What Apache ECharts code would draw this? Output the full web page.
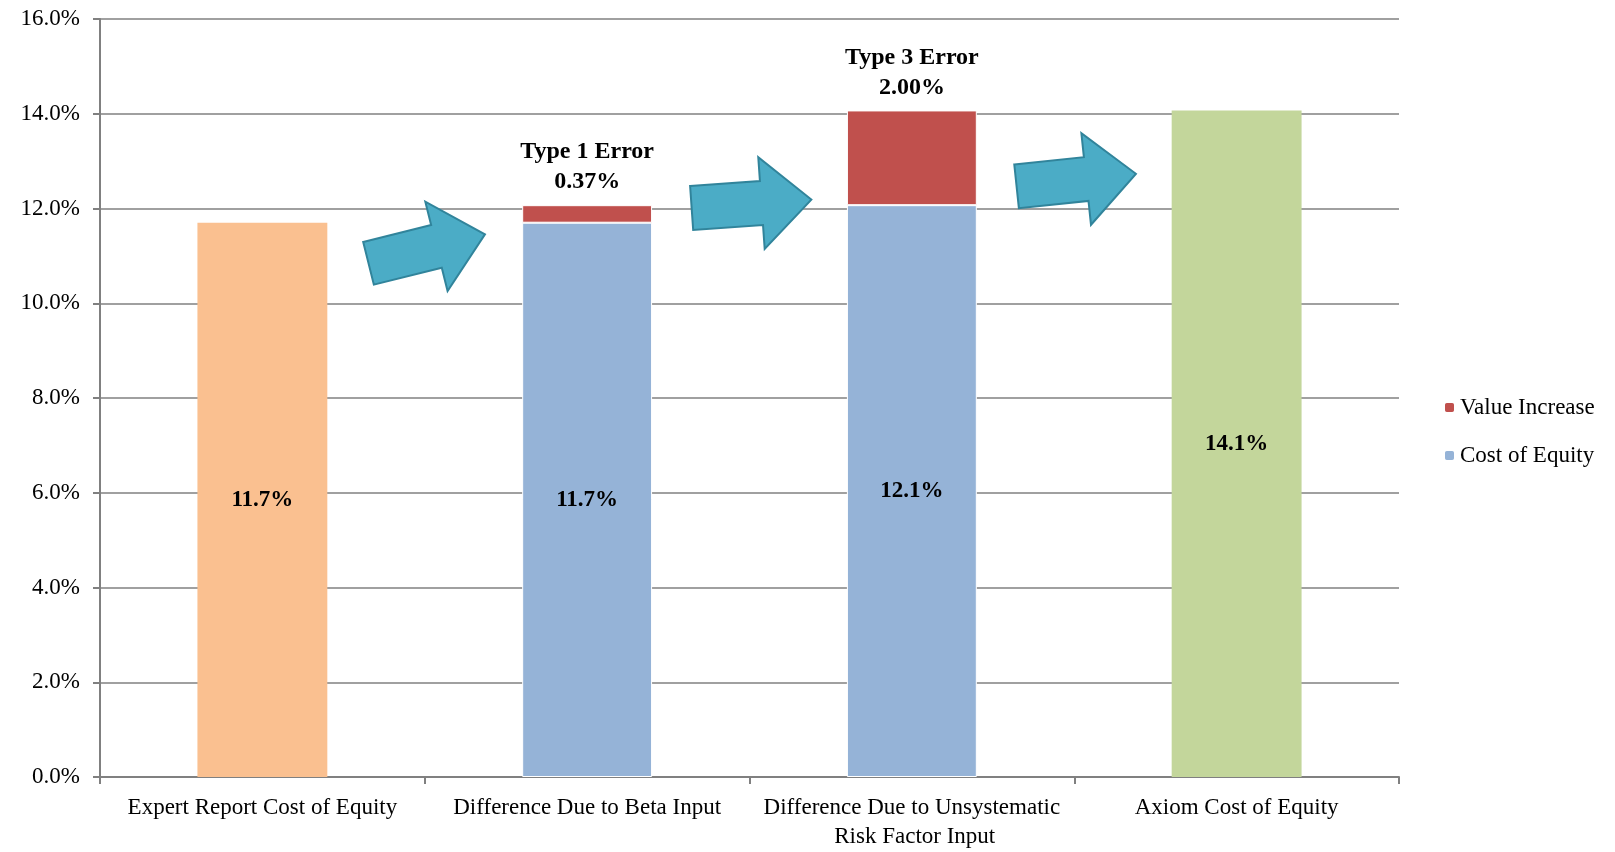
<!DOCTYPE html>
<html>
<head>
<meta charset="UTF-8">
<title>Cost of Equity</title>
<style>
  html, body { margin: 0; padding: 0; background: #fff; }
  #box { width: 1615px; height: 852px; }
</style>
</head>
<body>
<div id="box"></div>
<script type="text/javascript" src="https://cdn.jsdelivr.net/npm/echarts@6/dist/echarts.min.js"></script>
<script type="text/javascript">
// categories and values
var categories = ['Expert Report Cost of Equity', 'Difference Due to Beta Input',
  'Difference Due to Unsystematic Risk Factor Input', 'Axiom Cost of Equity'];
var expertValues = [11.7, '-', '-', '-'];
var costOfEquity = ['-', 11.7, 12.07, '-'];
var valueIncrease = ['-', 0.37, 2.00, '-'];
var axiomValues = ['-', '-', '-', 14.07];
var errorNames = ['', 'Type 1 Error', 'Type 3 Error', ''];
// arrows: [category the arrow starts after, y value of its centre, tilt in degrees]
var arrows = [[0, 11.15, 14], [1, 12.1, 4], [2, 12.6, 6]];
var yTicks = { min: 0, max: 16, interval: 2 };

var font = '"Liberation Serif", "DejaVu Serif", serif';
var myechart = echarts.init(document.getElementById('box'));

function pct1(p) { return (+p.value).toFixed(1) + '%'; }

var barLabel = {
  show: true, position: 'inside', formatter: pct1,
  color: '#000', fontFamily: font, fontWeight: 'bold', fontSize: 23
};

function renderArrow(params, api) {
  var i = api.value(0);
  var a = api.coord([i, api.value(1)]);
  var b = api.coord([i + 1, api.value(1)]);
  var cx = (a[0] + b[0]) / 2, cy = a[1];
  var len = 120, shaft = 44, head = 92, headLen = 50;
  var h = len / 2;
  var pts = [
    [-h, -shaft / 2], [h - headLen, -shaft / 2], [h - headLen, -head / 2],
    [h, 0], [h - headLen, head / 2], [h - headLen, shaft / 2], [-h, shaft / 2]
  ];
  return {
    type: 'polygon',
    x: cx + 2, y: cy,
    rotation: api.value(2) * Math.PI / 180,
    shape: { points: pts },
    style: { fill: '#4BACC6', stroke: '#31849B', lineWidth: 2 }
  };
}

var option = {
  animation: false,
  textStyle: { fontFamily: font },
  grid: { left: 100, right: 216, top: 19, bottom: 75 },
  legend: {
    data: ['Value Increase', 'Cost of Equity'],
    orient: 'vertical', left: 1438, top: 391,
    itemWidth: 11, itemHeight: 11, itemGap: 25,
    textStyle: { fontFamily: font, fontSize: 23, color: '#000' }
  },
  xAxis: {
    type: 'category', data: categories,
    axisLine: { lineStyle: { color: '#808080', width: 2 } },
    axisTick: { show: true, length: 7, lineStyle: { color: '#808080', width: 2 } },
    axisLabel: {
      color: '#000', fontFamily: font, fontSize: 23, margin: 16,
      width: 300, overflow: 'break', lineHeight: 29, interval: 0
    }
  },
  yAxis: {
    type: 'value', min: yTicks.min, max: yTicks.max, interval: yTicks.interval,
    axisLine: { show: true, lineStyle: { color: '#808080', width: 2 } },
    axisTick: { show: true, length: 7, lineStyle: { color: '#808080', width: 2 } },
    axisLabel: {
      color: '#000', fontFamily: font, fontSize: 23, margin: 20,
      formatter: function (v) { return v.toFixed(1) + '%'; }
    },
    splitLine: { lineStyle: { color: '#808080', width: 1.5 } }
  },
  series: [
    {
      name: 'Expert Report', type: 'bar', stack: 'coe', barWidth: '40%',
      data: expertValues, itemStyle: { color: '#FAC090' }, label: barLabel
    },
    {
      name: 'Cost of Equity', type: 'bar', stack: 'coe', barWidth: '40%',
      data: costOfEquity, itemStyle: { color: '#95B3D7', borderColor: '#fff', borderWidth: 1 },
      label: barLabel
    },
    {
      name: 'Value Increase', type: 'bar', stack: 'coe', barWidth: '40%',
      data: valueIncrease, itemStyle: { color: '#C0504D', borderColor: '#fff', borderWidth: 1 },
      label: {
        show: true, position: 'top', distance: 8,
        color: '#000', fontFamily: font, fontWeight: 'bold', fontSize: 24, lineHeight: 30,
        formatter: function (p) {
          return errorNames[p.dataIndex] + '\n' + (+p.value).toFixed(2) + '%';
        }
      }
    },
    {
      name: 'Axiom', type: 'bar', stack: 'coe', barWidth: '40%',
      data: axiomValues, itemStyle: { color: '#C3D69B' }, label: barLabel
    },
    {
      name: 'arrows', type: 'custom', renderItem: renderArrow,
      data: arrows, z: 5, silent: true
    }
  ]
};

myechart.setOption(option);
</script>
</body>
</html>
